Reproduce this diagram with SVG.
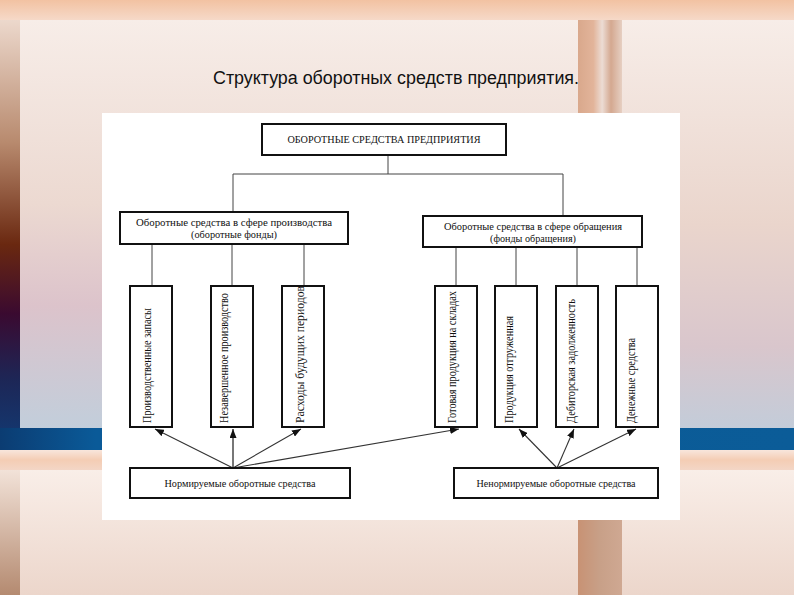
<svg xmlns="http://www.w3.org/2000/svg" width="794" height="595" viewBox="0 0 794 595">
<defs>
<linearGradient id="gTop" x1="0" y1="0" x2="0" y2="1"><stop offset="0" stop-color="#f2c2a2"/><stop offset="1" stop-color="#f6d9c8"/></linearGradient>
<linearGradient id="gPanelL" x1="0" y1="0" x2="0" y2="1"><stop offset="0" stop-color="#f7ede8"/><stop offset="0.45" stop-color="#ecd9d1"/><stop offset="0.7" stop-color="#dcc3cb"/><stop offset="1" stop-color="#c2cedb"/></linearGradient>
<linearGradient id="gEdgeL" x1="0" y1="0" x2="0" y2="1"><stop offset="0" stop-color="#ecd8cc"/><stop offset="0.3" stop-color="#b88a6e"/><stop offset="0.55" stop-color="#6a2810"/><stop offset="0.72" stop-color="#3a0a30"/><stop offset="0.88" stop-color="#1d2656"/><stop offset="1" stop-color="#15356c"/></linearGradient>
<linearGradient id="gBand" x1="0" y1="0" x2="1" y2="0"><stop offset="0" stop-color="#0b3c72"/><stop offset="0.12" stop-color="#0a5a98"/><stop offset="0.5" stop-color="#0a5a96"/><stop offset="1" stop-color="#0b5c98"/></linearGradient>
<linearGradient id="gStrip" x1="0" y1="0" x2="0" y2="1"><stop offset="0" stop-color="#f8e6dc"/><stop offset="0.5" stop-color="#f4cdb4"/><stop offset="1" stop-color="#f3d6c6"/></linearGradient>
<linearGradient id="gPanelB" x1="0" y1="0" x2="0" y2="1"><stop offset="0" stop-color="#f9eee8"/><stop offset="1" stop-color="#ecd6cb"/></linearGradient>
<linearGradient id="gEdgeB" x1="0" y1="0" x2="0" y2="1"><stop offset="0" stop-color="#f2e2d8"/><stop offset="1" stop-color="#b48a70"/></linearGradient>
<linearGradient id="gBar" x1="0" y1="0" x2="1" y2="0"><stop offset="0" stop-color="#d9a88c"/><stop offset="0.35" stop-color="#e2b49a"/><stop offset="0.55" stop-color="#ecdcd4"/><stop offset="0.75" stop-color="#d4a890"/><stop offset="1" stop-color="#e6cfc2"/></linearGradient>
<linearGradient id="gBarB" x1="0" y1="0" x2="1" y2="0"><stop offset="0" stop-color="#c89274"/><stop offset="0.5" stop-color="#c8a088"/><stop offset="1" stop-color="#cfa892"/></linearGradient>
<linearGradient id="gPanelR" x1="0" y1="0" x2="0" y2="1"><stop offset="0" stop-color="#f7ede8"/><stop offset="0.5" stop-color="#ead5cc"/><stop offset="0.8" stop-color="#d9c6cc"/><stop offset="1" stop-color="#c3ccd9"/></linearGradient>
<marker id="ah" markerWidth="9" markerHeight="7" refX="9" refY="3.5" orient="auto" markerUnits="userSpaceOnUse"><path d="M0,0 L9,3.5 L0,7 Z" fill="#111"/></marker>
<style>
.box{fill:#fff;stroke:#111;stroke-width:2}
.ln{stroke:#444;stroke-width:1;fill:none}
.ar{stroke:#333;stroke-width:1.1;fill:none;marker-end:url(#ah)}
.t{font-family:"Liberation Serif","DejaVu Serif",serif;font-size:11px;fill:#111}
.r{font-size:12px}
.c{text-anchor:middle}
.title{font-family:"Liberation Sans Narrow","Liberation Sans",Arial,sans-serif;font-size:18px;fill:#111}
</style>
</defs>
<g id="background">
<rect x="0" y="0" width="794" height="595" fill="#f3dccf"/>
<rect x="0" y="0" width="794" height="20" fill="url(#gTop)"/>
<rect x="0" y="20" width="20" height="408" fill="url(#gEdgeL)"/>
<rect x="20" y="20" width="558" height="408" fill="url(#gPanelL)"/>
<rect x="578" y="20" width="44" height="408" fill="url(#gBar)"/>
<rect x="622" y="20" width="172" height="408" fill="url(#gPanelR)"/>
<rect x="0" y="428" width="794" height="22" fill="url(#gBand)"/>
<rect x="0" y="450" width="794" height="20" fill="url(#gStrip)"/>
<rect x="0" y="470" width="20" height="125" fill="url(#gEdgeB)"/>
<rect x="20" y="470" width="558" height="125" fill="url(#gPanelB)"/>
<rect x="578" y="470" width="44" height="125" fill="url(#gBarB)"/>
<rect x="622" y="470" width="172" height="125" fill="url(#gPanelB)"/>
<text class="title" x="213" y="84" textLength="366" lengthAdjust="spacingAndGlyphs">Структура оборотных средств предприятия.</text>
<rect x="102" y="113" width="578" height="407" fill="#fff"/>
</g>
<g id="connectors">
<line class="ln" x1="388" y1="155" x2="388" y2="174"/>
<line class="ln" x1="233" y1="174" x2="563" y2="174"/>
<line class="ln" x1="233" y1="174" x2="233" y2="212"/>
<line class="ln" x1="563" y1="174" x2="563" y2="216"/>
<line class="ln" x1="152" y1="244" x2="152" y2="286"/>
<line class="ln" x1="232" y1="244" x2="232" y2="286"/>
<line class="ln" x1="304" y1="244" x2="304" y2="286"/>
<line class="ln" x1="456" y1="247" x2="456" y2="286"/>
<line class="ln" x1="516" y1="247" x2="516" y2="286"/>
<line class="ln" x1="577" y1="247" x2="577" y2="286"/>
<line class="ln" x1="637" y1="247" x2="637" y2="286"/>
<line class="ar" x1="233" y1="468" x2="155" y2="429"/>
<line class="ar" x1="233" y1="468" x2="233" y2="429" style="stroke-width:1.6;stroke:#555"/>
<line class="ar" x1="233" y1="468" x2="301" y2="429"/>
<line class="ar" x1="233" y1="468" x2="459" y2="429"/>
<line class="ar" x1="557" y1="468" x2="519" y2="429"/>
<line class="ar" x1="557" y1="468" x2="574" y2="429"/>
<line class="ar" x1="557" y1="468" x2="636" y2="429"/>
</g>
<g id="root">
<rect class="box" x="262" y="124" width="244" height="31"/>
<text class="t c" x="384" y="143" font-size="10.5" textLength="193" lengthAdjust="spacingAndGlyphs">ОБОРОТНЫЕ СРЕДСТВА ПРЕДПРИЯТИЯ</text>
</g>
<g id="production">
<rect class="box" x="120" y="212" width="228" height="32"/>
<text class="t c" x="234" y="226" textLength="196" lengthAdjust="spacingAndGlyphs">Оборотные средства в сфере производства</text>
<text class="t c" x="234" y="238" textLength="86" lengthAdjust="spacingAndGlyphs">(оборотные фонды)</text>
</g>
<g id="circulation">
<rect class="box" x="423" y="216" width="219" height="31"/>
<text class="t c" x="533" y="230" textLength="178" lengthAdjust="spacingAndGlyphs">Оборотные средства в сфере обращения</text>
<text class="t c" x="533" y="242" textLength="86" lengthAdjust="spacingAndGlyphs">(фонды обращения)</text>
</g>
<g id="v1"><rect class="box" x="130" y="286" width="42" height="141"/><text class="t r" transform="translate(151,423) rotate(-90)" textLength="115" lengthAdjust="spacingAndGlyphs">Производственные запасы</text></g>
<g id="v2"><rect class="box" x="211" y="286" width="42" height="141"/><text class="t r" transform="translate(228,423) rotate(-90)" textLength="130" lengthAdjust="spacingAndGlyphs">Незавершенное производство</text></g>
<g id="v3"><rect class="box" x="282" y="286" width="42" height="141"/><text class="t r" transform="translate(304,423) rotate(-90)" textLength="137" lengthAdjust="spacingAndGlyphs">Расходы будущих периодов</text></g>
<g id="v4"><rect class="box" x="435" y="286" width="42" height="141"/><text class="t r" transform="translate(456,423) rotate(-90)" textLength="132" lengthAdjust="spacingAndGlyphs">Готовая продукция на складах</text></g>
<g id="v5"><rect class="box" x="495" y="286" width="42" height="141"/><text class="t r" transform="translate(513,423) rotate(-90)" textLength="107" lengthAdjust="spacingAndGlyphs">Продукция отгруженная</text></g>
<g id="v6"><rect class="box" x="556" y="286" width="42" height="141"/><text class="t r" transform="translate(575,423) rotate(-90)" textLength="124" lengthAdjust="spacingAndGlyphs">Дебиторская задолженность</text></g>
<g id="v7"><rect class="box" x="616" y="286" width="42" height="141"/><text class="t r" transform="translate(635,423) rotate(-90)" textLength="85" lengthAdjust="spacingAndGlyphs">Денежные средства</text></g>
<g id="normed">
<rect class="box" x="130" y="468" width="220" height="30"/>
<text class="t c" x="240" y="487" textLength="151" lengthAdjust="spacingAndGlyphs">Нормируемые оборотные средства</text>
</g>
<g id="nonnormed">
<rect class="box" x="454" y="468" width="204" height="30"/>
<text class="t c" x="556" y="487" textLength="159" lengthAdjust="spacingAndGlyphs">Ненормируемые оборотные средства</text>
</g>
</svg>
